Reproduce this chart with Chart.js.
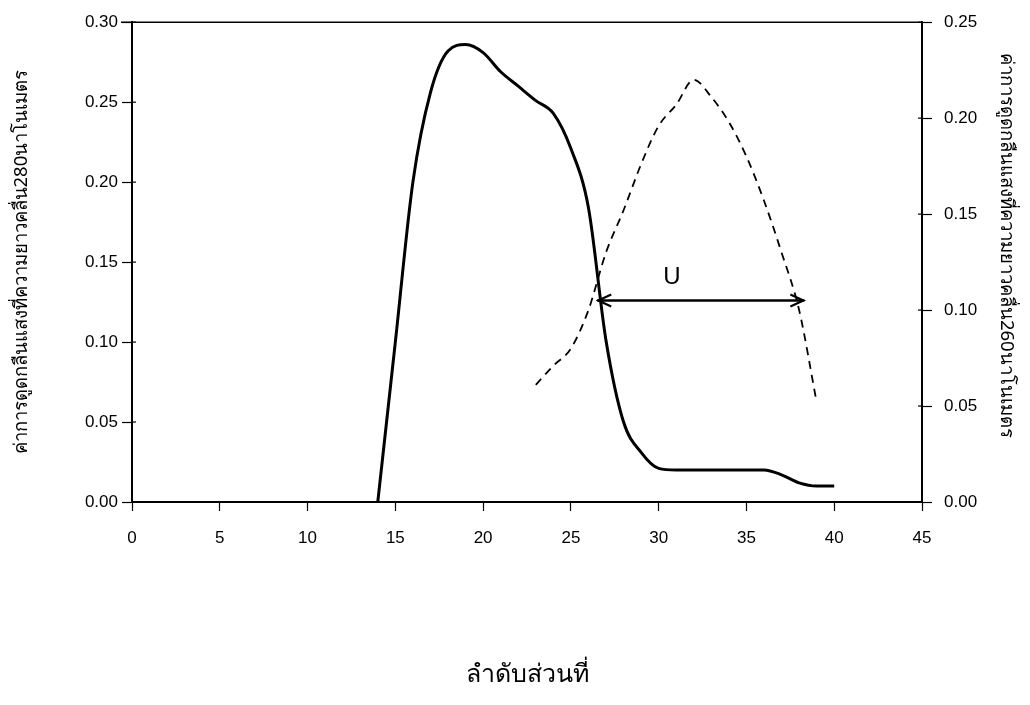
<!DOCTYPE html>
<html>
<head>
<meta charset="utf-8">
<script src="https://cdn.jsdelivr.net/npm/chart.js@4.4.0/dist/chart.umd.min.js"></script>
<style>
  html, body { margin: 0; padding: 0; background: #ffffff; }
  #wrap { width: 1030px; height: 705px; }
</style>
</head>
<body>
<div id="wrap"><canvas id="c" width="1030" height="705"></canvas></div>
<script>
// Fraction numbers and absorbance readings
const fraction280 = [14, 15, 16, 17, 18, 19, 20, 21, 22, 23, 24, 25, 26, 27, 28, 29, 30, 31, 32, 33, 34, 35, 36, 37, 38, 39, 40];
const absorbance280 = [0.000, 0.100, 0.200, 0.256, 0.282, 0.286, 0.281, 0.269, 0.260, 0.251, 0.243, 0.221, 0.184, 0.101, 0.050, 0.031, 0.021, 0.020, 0.020, 0.020, 0.020, 0.020, 0.020, 0.017, 0.012, 0.010, 0.010];

const fraction260 = [23, 24, 25, 26, 27, 28, 29, 30, 31, 32, 33, 34, 35, 36, 37, 38, 39];
const absorbance260 = [0.061, 0.071, 0.080, 0.100, 0.130, 0.152, 0.176, 0.196, 0.207, 0.220, 0.211, 0.198, 0.180, 0.157, 0.130, 0.100, 0.052];

// Tick values
const xTicks = [0, 5, 10, 15, 20, 25, 30, 35, 40, 45];
const leftTicks = [0, 0.05, 0.10, 0.15, 0.20, 0.25, 0.30];
const rightTicks = [0, 0.05, 0.10, 0.15, 0.20, 0.25];

// Span marker "U" (in fraction numbers, right-axis absorbance)
const spanStart = 26.5;
const spanEnd = 38.3;
const spanLevel = 0.105;
const spanLabel = 'U';
const spanLabelAt = [30.75, 0.117];

const xTitle = 'ลำดับส่วนที่';
const leftTitle = 'ค่าการดูดกลืนแสงที่ความยาวคลื่น280นาโนเมตร';
// trailing spaces lift the centred right-hand title slightly
const rightTitle = 'ค่าการดูดกลืนแสงที่ความยาวคลื่น260นาโนเมตร\u00a0\u00a0\u00a0\u00a0\u00a0\u00a0\u00a0';

const toPoints = (xs, ys) => xs.map((x, i) => ({ x: x, y: ys[i] }));

const tickFont = { family: "'Liberation Sans', Arial, sans-serif", size: 17 };
const thaiFont = "'Noto Sans', 'DejaVu Sans', sans-serif";

// Top frame line, inner tick stubs and the double-headed span arrow
const decorations = {
  id: 'decorations',
  afterDraw(chart) {
    const ctx = chart.ctx;
    const area = chart.chartArea;
    const xs = chart.scales.x, yl = chart.scales.y, yr = chart.scales.y1;
    ctx.save();
    ctx.strokeStyle = '#000';
    ctx.lineWidth = 1.5;
    ctx.beginPath();
    ctx.moveTo(area.left - 11, area.top);
    ctx.lineTo(area.right, area.top);
    ctx.stroke();

    ctx.lineWidth = 1.2;
    leftTicks.forEach(v => {
      const py = yl.getPixelForValue(v);
      ctx.beginPath(); ctx.moveTo(area.left, py); ctx.lineTo(area.left + 4, py); ctx.stroke();
    });
    rightTicks.forEach(v => {
      const py = yr.getPixelForValue(v);
      ctx.beginPath(); ctx.moveTo(area.right - 4, py); ctx.lineTo(area.right, py); ctx.stroke();
    });

    const x0 = xs.getPixelForValue(spanStart);
    const x1 = xs.getPixelForValue(spanEnd);
    const yy = yr.getPixelForValue(spanLevel);
    ctx.lineWidth = 2.4;
    ctx.beginPath(); ctx.moveTo(x0, yy); ctx.lineTo(x1, yy); ctx.stroke();
    ctx.lineWidth = 2.2;
    ctx.beginPath();
    ctx.moveTo(x0 + 14, yy - 6); ctx.lineTo(x0 + 1, yy); ctx.lineTo(x0 + 14, yy + 6);
    ctx.moveTo(x1 - 14, yy - 6); ctx.lineTo(x1 - 1, yy); ctx.lineTo(x1 - 14, yy + 6);
    ctx.stroke();

    ctx.fillStyle = '#000';
    ctx.font = "24px 'Liberation Sans', Arial, sans-serif";
    ctx.textAlign = 'center';
    ctx.textBaseline = 'middle';
    ctx.fillText(spanLabel, xs.getPixelForValue(spanLabelAt[0]), yr.getPixelForValue(spanLabelAt[1]));
    ctx.restore();
  }
};

new Chart(document.getElementById('c'), {
  type: 'line',
  data: {
    datasets: [
      {
        label: 'A280',
        data: toPoints(fraction280, absorbance280),
        yAxisID: 'y',
        borderColor: '#000',
        borderWidth: 3,
        pointRadius: 0,
        fill: false,
        cubicInterpolationMode: 'monotone'
      },
      {
        label: 'A260',
        data: toPoints(fraction260, absorbance260),
        yAxisID: 'y1',
        borderColor: '#000',
        borderWidth: 1.8,
        borderDash: [8, 6],
        pointRadius: 0,
        fill: false,
        cubicInterpolationMode: 'monotone'
      }
    ]
  },
  options: {
    responsive: false,
    animation: false,
    devicePixelRatio: 1,
    layout: { padding: { top: 22, left: 0, right: 0, bottom: 0 } },
    plugins: { legend: { display: false }, tooltip: { enabled: false } },
    scales: {
      x: {
        type: 'linear',
        min: 0, max: 45,
        afterBuildTicks: s => { s.ticks = xTicks.map(v => ({ value: v })); },
        afterFit: s => { s.height = 203; },
        ticks: { color: '#000', font: tickFont, padding: 17, maxRotation: 0, autoSkip: false },
        grid: { drawOnChartArea: false, drawTicks: true, tickLength: 9, color: '#000', tickWidth: 1.2 },
        border: { color: '#000', width: 2 },
        title: { display: true, text: xTitle, color: '#000', font: { family: thaiFont, size: 25 }, padding: { top: 0, bottom: 15 } }
      },
      y: {
        type: 'linear',
        position: 'left',
        min: 0, max: 0.3,
        afterBuildTicks: s => { s.ticks = leftTicks.map(v => ({ value: v })); },
        afterFit: s => { s.width = 132; },
        ticks: { color: '#000', font: tickFont, padding: 4, callback: v => v.toFixed(2) },
        grid: { drawOnChartArea: false, drawTicks: true, tickLength: 10, color: '#000', tickWidth: 1.2 },
        border: { color: '#000', width: 2 },
        title: { display: true, text: leftTitle, color: '#000', font: { family: thaiFont, size: 18.5 }, padding: { top: 11, bottom: 0 } }
      },
      y1: {
        type: 'linear',
        position: 'right',
        min: 0, max: 0.25,
        afterBuildTicks: s => { s.ticks = rightTicks.map(v => ({ value: v })); },
        afterFit: s => { s.width = 108; },
        ticks: { color: '#000', font: tickFont, padding: 12, callback: v => v.toFixed(2) },
        grid: { drawOnChartArea: false, drawTicks: true, tickLength: 10, color: '#000', tickWidth: 1.2 },
        border: { color: '#000', width: 2 },
        title: { display: true, text: rightTitle, color: '#000', font: { family: thaiFont, size: 18.5 }, padding: { top: 13, bottom: 0 } }
      }
    }
  },
  plugins: [decorations]
});
</script>
</body>
</html>
